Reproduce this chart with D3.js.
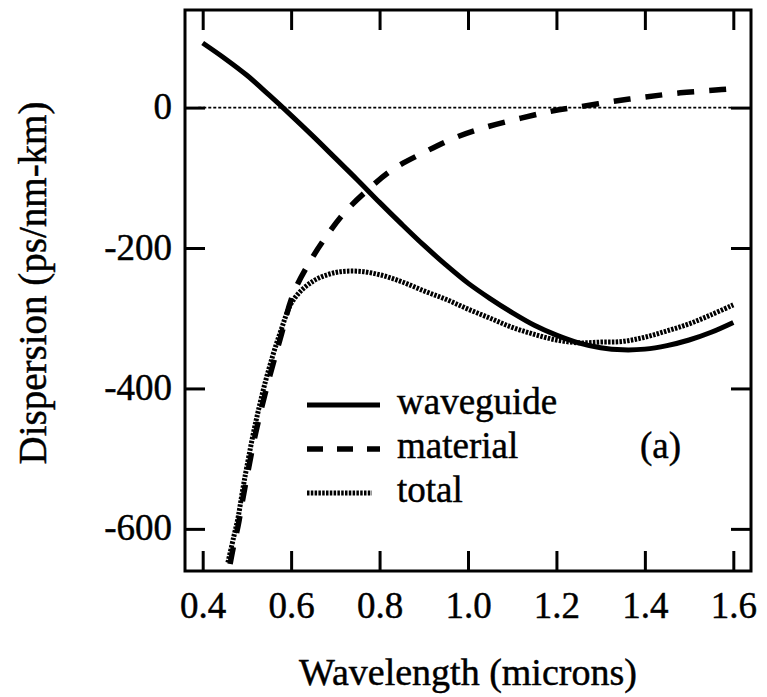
<!DOCTYPE html>
<html>
<head>
<meta charset="utf-8">
<script src="https://cdn.jsdelivr.net/npm/d3@7/dist/d3.min.js"></script>
<style>
  html, body { margin: 0; padding: 0; background: #fff; }
  svg { display: block; }
  text { font-family: "Liberation Serif", "Times New Roman", serif; fill: #000; stroke: #000; stroke-width: 0.45px; }
</style>
</head>
<body>
<svg id="chart" width="767" height="697"></svg>
<script>
// ---- data ----
const xTicks = [0.4, 0.6, 0.8, 1.0, 1.2, 1.4, 1.6];
const yTicks = [0, -200, -400, -600];

const waveguideWavelength = [0.40,0.45,0.50,0.55,0.60,0.65,0.70,0.75,0.80,0.85,0.90,0.95,1.00,1.05,1.10,1.15,1.20,1.25,1.30,1.35,1.40,1.45,1.50,1.55,1.60];
const waveguideValues     = [92,70,46,18,-11,-41,-72,-103,-135,-166,-196,-224,-250,-272,-292,-310,-324,-335,-342,-345,-344,-339,-331,-320,-306];

const materialWavelength = [0.462,0.47,0.48,0.49,0.50,0.52,0.545,0.575,0.605,0.64,0.68,0.72,0.77,0.83,0.90,0.97,1.04,1.12,1.19,1.25,1.33,1.40,1.48,1.56,1.60];
const materialValues     = [-650,-624,-596,-560,-526,-463,-398,-330,-265,-222,-183,-150,-119,-88,-64,-43,-28,-15,-5,1,9,15,21,25,27];

const totalWavelength = [0.457,0.47,0.48,0.49,0.50,0.52,0.545,0.575,0.605,0.65,0.70,0.75,0.80,0.85,0.90,0.95,1.00,1.05,1.10,1.15,1.20,1.25,1.30,1.35,1.40,1.45,1.50,1.55,1.60];
const totalValues     = [-648,-612,-584,-546,-511,-448,-383,-321,-274,-247,-235,-233,-238,-248,-261,-273,-287,-300,-313,-323,-331,-335,-334,-333,-327,-318,-308,-295,-281];

const legendLabels = ["waveguide", "material", "total"];
const panelLabel = "(a)";
const xTitle = "Wavelength (microns)";
const yTitle = "Dispersion (ps/nm-km)";

// ---- layout ----
const L = 185, R = 751, T = 10, B = 571;
const x = d3.scaleLinear().domain([0.36, 1.64]).range([L, R]);
const y = d3.scaleLinear().domain([-660, 139]).range([B, T]);

const svg = d3.select("#chart");
svg.append("rect").attr("width", 767).attr("height", 697).attr("fill", "#fff");

svg.append("clipPath").attr("id", "plotclip")
  .append("rect").attr("x", L).attr("y", T).attr("width", R - L).attr("height", B - T);

const fontTick = 37;

// axes (ticks pointing inward)
function styleAxis(g) {
  g.select(".domain").remove();
  g.selectAll(".tick line").attr("stroke", "#000").attr("stroke-width", 3);
}
const gB = svg.append("g").attr("transform", `translate(0,${B})`)
  .call(d3.axisBottom(x).tickValues(xTicks).tickSizeInner(-20).tickSizeOuter(0).tickFormat(d3.format(".1f")));
styleAxis(gB);
gB.selectAll("text").attr("y", 47).attr("dy", null).style("font-size", fontTick + "px")
  .style("font-family", '"Liberation Serif", serif');

const gT = svg.append("g").attr("transform", `translate(0,${T})`)
  .call(d3.axisTop(x).tickValues(xTicks).tickSizeInner(-20).tickSizeOuter(0).tickFormat(""));
styleAxis(gT);

const gL = svg.append("g").attr("transform", `translate(${L},0)`)
  .call(d3.axisLeft(y).tickValues(yTicks).tickSizeInner(-20).tickSizeOuter(0).tickFormat(d => d3.format("d")(d).replace("−", "-")));
styleAxis(gL);
gL.selectAll("text").attr("x", -13).attr("dy", "0.3em").style("font-size", fontTick + "px")
  .style("font-family", '"Liberation Serif", serif');

const gR = svg.append("g").attr("transform", `translate(${R},0)`)
  .call(d3.axisRight(y).tickValues(yTicks).tickSizeInner(-20).tickSizeOuter(0).tickFormat(""));
styleAxis(gR);

// frame
svg.append("rect").attr("x", L).attr("y", T).attr("width", R - L).attr("height", B - T)
  .attr("fill", "none").attr("stroke", "#000").attr("stroke-width", 3);

// zero line
svg.append("line")
  .attr("x1", x(0.39)).attr("x2", x(1.6)).attr("y1", y(0)).attr("y2", y(0))
  .attr("stroke", "#000").attr("stroke-width", 1.6).attr("stroke-dasharray", "3,2");

// curves
const plot = svg.append("g").attr("clip-path", "url(#plotclip)");
const line = d3.line().x(d => x(d[0])).y(d => y(d[1])).curve(d3.curveCatmullRom.alpha(0.5));
const zip = (a, b) => a.map((v, i) => [v, b[i]]);

plot.append("path").datum(zip(totalWavelength, totalValues))
  .attr("d", line).attr("fill", "none").attr("stroke", "#000")
  .attr("stroke-width", 5).attr("stroke-dasharray", "2.5,1.3");

plot.append("path").datum(zip(materialWavelength, materialValues))
  .attr("d", line).attr("fill", "none").attr("stroke", "#000")
  .attr("stroke-width", 5.5).attr("stroke-dasharray", "17,15");

plot.append("path").datum(zip(waveguideWavelength, waveguideValues))
  .attr("d", line).attr("fill", "none").attr("stroke", "#000")
  .attr("stroke-width", 5).attr("stroke-linecap", "butt");

// legend
const legRows = [405, 449, 493];
const legStyles = [
  { w: 5, dash: null },
  { w: 5.5, dash: "16,14" },
  { w: 5, dash: "2.5,1.3" }
];
const leg = svg.append("g");
legendLabels.forEach((lab, i) => {
  const ln = leg.append("line")
    .attr("x1", 307).attr("x2", i === 2 ? 372 : 380)
    .attr("y1", legRows[i]).attr("y2", legRows[i])
    .attr("stroke", "#000").attr("stroke-width", legStyles[i].w);
  if (legStyles[i].dash) ln.attr("stroke-dasharray", legStyles[i].dash);
  leg.append("text").attr("x", 397).attr("y", legRows[i] + 9)
    .style("font-size", "37px").text(lab);
});
svg.append("text").attr("x", 640).attr("y", 458).style("font-size", "37px").text(panelLabel);

// axis titles
svg.append("text").attr("x", (L + R) / 2).attr("y", 685)
  .attr("text-anchor", "middle").style("font-size", "38px").text(xTitle);
svg.append("text").attr("transform", `translate(46,283) rotate(-90)`)
  .attr("text-anchor", "middle").style("font-size", "39px").text(yTitle);
</script>
</body>
</html>
